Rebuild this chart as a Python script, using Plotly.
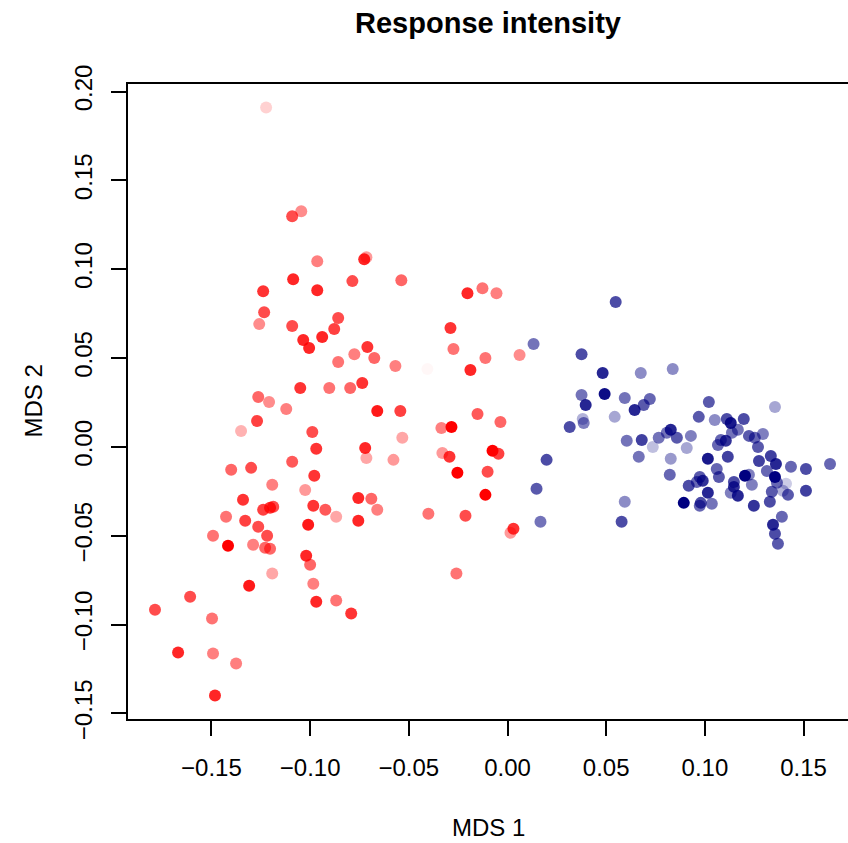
import plotly.graph_objects as go

# Group 1 (red): MDS coordinates and per-sample response intensity (0-1)
red_x = [-0.1223, -0.1045, -0.1091, -0.0964, -0.1086, -0.1238, -0.0964, -0.0786, -0.0726, -0.0715,
         -0.1233, -0.1258, -0.1091, -0.1035, -0.1005, -0.0939, -0.0878, -0.0858, -0.0776, -0.0858,
         -0.0710, -0.0736, -0.0797, -0.0903, -0.1050, -0.1263, -0.1208, -0.1121, -0.1269, -0.1350,
         -0.0989, -0.0969, -0.0721, -0.0715, -0.1400, -0.1299, -0.1091, -0.1192, -0.0979, -0.1025,
         -0.1340, -0.1238, -0.1203, -0.1187, -0.0984, -0.0923, -0.0756, -0.1426, -0.1329, -0.1263,
         -0.1218, -0.1492, -0.1416, -0.1289, -0.1228, -0.1203, -0.0868, -0.0756, -0.1010, -0.1020,
         -0.1000, -0.1192, -0.1309, -0.0984, -0.1608, -0.1786, -0.1497, -0.0969, -0.0868, -0.0792,
         -0.1669, -0.1492, -0.1375, -0.1482, -0.0538, -0.0203, -0.0127, -0.0056, -0.0289, -0.0675,
         -0.0568, -0.0406, -0.0274, -0.0188, -0.0112, 0.0061, -0.0660, -0.0543, -0.0533, -0.0335,
         -0.0284, -0.0152, -0.0036, -0.0578, -0.0330, -0.0294, -0.0076, -0.0046, -0.0254, -0.0101,
         -0.0112, -0.0690, -0.0660, -0.0401, -0.0213, 0.0030, 0.0015, -0.0259]
red_y = [0.1910, 0.1326, 0.1298, 0.1045, 0.0944, 0.0876, 0.0882, 0.0933, 0.1056, 0.1067,
         0.0758, 0.0691, 0.0680, 0.0601, 0.0556, 0.0618, 0.0663, 0.0725, 0.0522, 0.0478,
         0.0562, 0.0360, 0.0331, 0.0331, 0.0331, 0.0281, 0.0253, 0.0213, 0.0146, 0.0090,
         0.0084, -0.0011, -0.0006, -0.0062, -0.0129, -0.0118, -0.0084, -0.0213, -0.0163, -0.0242,
         -0.0298, -0.0354, -0.0343, -0.0337, -0.0331, -0.0354, -0.0287, -0.0393, -0.0416, -0.0449,
         -0.0500, -0.0500, -0.0556, -0.0551, -0.0567, -0.0573, -0.0393, -0.0416, -0.0438, -0.0612,
         -0.0663, -0.0713, -0.0781, -0.0770, -0.0843, -0.0916, -0.0966, -0.0871, -0.0865, -0.0938,
         -0.1157, -0.1163, -0.1219, -0.1399, 0.0938, 0.0865, 0.0893, 0.0865, 0.0669, 0.0500,
         0.0455, 0.0438, 0.0551, 0.0433, 0.0500, 0.0517, 0.0202, 0.0202, 0.0051, 0.0107,
         0.0112, 0.0185, 0.0140, -0.0073, -0.0034, -0.0056, -0.0022, -0.0039, -0.0146, -0.0140,
         -0.0270, -0.0292, -0.0354, -0.0376, -0.0388, -0.0461, -0.0483, -0.0713]
red_intensity = [0.18, 0.45, 0.70, 0.50, 0.85, 0.80, 0.85, 0.70, 0.85, 0.40,
                 0.70, 0.45, 0.70, 0.85, 0.85, 0.85, 0.75, 0.70, 0.50, 0.55,
                 0.80, 0.80, 0.60, 0.55, 0.80, 0.60, 0.45, 0.50, 0.75, 0.30,
                 0.70, 0.80, 0.85, 0.35, 0.60, 0.70, 0.65, 0.50, 0.80, 0.40,
                 0.80, 0.75, 0.80, 0.70, 0.80, 0.65, 0.85, 0.55, 0.75, 0.70,
                 0.70, 0.55, 1.00, 0.50, 0.60, 0.60, 0.35, 0.85, 0.90, 0.85,
                 0.60, 0.35, 0.90, 0.50, 0.70, 0.70, 0.55, 0.85, 0.55, 0.80,
                 0.85, 0.50, 0.50, 0.85, 0.60, 0.85, 0.55, 0.50, 0.80, 0.60,
                 0.50, 0.03, 0.55, 0.85, 0.55, 0.45, 0.90, 0.75, 0.35, 0.50,
                 1.00, 0.65, 0.60, 0.40, 0.40, 0.80, 1.00, 0.75, 1.00, 0.70,
                 1.00, 0.60, 0.50, 0.55, 0.70, 0.80, 0.40, 0.55]

# Group 2 (blue): MDS coordinates and per-sample response intensity (0-1)
blue_x = [0.0132, 0.0198, 0.0147, 0.0167, 0.0548, 0.0375, 0.0482, 0.0675, 0.0837, 0.0375,
          0.0492, 0.0396, 0.0594, 0.0644, 0.0690, 0.0721, 0.0381, 0.0386, 0.0315, 0.0543,
          0.0604, 0.0680, 0.0766, 0.0736, 0.0807, 0.0827, 0.0858, 0.0929, 0.0908, 0.0665,
          0.0827, 0.0822, 0.0918, 0.0893, 0.0594, 0.0578, 0.1020, 0.0969, 0.1050, 0.1111,
          0.1131, 0.1197, 0.1355, 0.1167, 0.1137, 0.1106, 0.1081, 0.1066, 0.1223, 0.1253,
          0.1294, 0.1269, 0.1015, 0.1116, 0.1060, 0.1071, 0.0974, 0.0959, 0.0989, 0.1274,
          0.1334, 0.1360, 0.1314, 0.1436, 0.1512, 0.1634, 0.1203, 0.1223, 0.1238, 0.1355,
          0.1365, 0.1411, 0.1395, 0.1421, 0.1147, 0.1147, 0.1131, 0.1167, 0.1015, 0.0979,
          0.0974, 0.1035, 0.1248, 0.1339, 0.1329, 0.1512, 0.1390, 0.1345, 0.1355, 0.1370]
blue_y = [0.0579, -0.0073, -0.0236, -0.0421, 0.0815, 0.0522, 0.0416, 0.0416, 0.0438, 0.0292,
          0.0298, 0.0236, 0.0275, 0.0208, 0.0236, 0.0270, 0.0157, 0.0135, 0.0112, 0.0169,
          0.0034, 0.0039, 0.0051, 0.0000, 0.0079, 0.0096, 0.0051, 0.0062, -0.0006, -0.0056,
          -0.0067, -0.0157, -0.0219, -0.0315, -0.0309, -0.0421, 0.0253, 0.0169, 0.0152, 0.0157,
          0.0135, 0.0157, 0.0225, 0.0096, 0.0079, 0.0034, 0.0039, 0.0011, 0.0062, 0.0051,
          0.0073, 0.0000, -0.0067, -0.0056, -0.0124, -0.0169, -0.0169, -0.0197, -0.0191, -0.0079,
          -0.0051, -0.0096, -0.0135, -0.0112, -0.0124, -0.0096, -0.0163, -0.0157, -0.0213, -0.0169,
          -0.0202, -0.0208, -0.0247, -0.0270, -0.0197, -0.0225, -0.0258, -0.0275, -0.0258, -0.0315,
          -0.0331, -0.0320, -0.0331, -0.0253, -0.0309, -0.0247, -0.0393, -0.0438, -0.0489, -0.0545]
blue_intensity = [0.55, 0.70, 0.65, 0.55, 0.70, 0.70, 0.85, 0.45, 0.45, 0.55,
                  0.95, 0.85, 0.55, 0.85, 0.65, 0.60, 0.30, 0.50, 0.70, 0.35,
                  0.55, 0.75, 0.55, 0.25, 0.55, 0.85, 0.65, 0.50, 0.35, 0.55,
                  0.40, 0.60, 0.70, 1.00, 0.45, 0.70, 0.65, 0.65, 0.45, 0.70,
                  0.90, 0.70, 0.35, 0.55, 0.55, 0.80, 0.60, 0.60, 0.65, 0.60,
                  0.50, 0.65, 0.90, 0.75, 0.60, 0.65, 0.65, 0.60, 0.80, 0.75,
                  0.75, 0.85, 0.60, 0.60, 0.70, 0.60, 1.00, 0.50, 0.50, 1.00,
                  0.60, 0.20, 0.30, 0.65, 0.70, 0.80, 0.50, 0.85, 0.85, 0.70,
                  0.60, 0.55, 0.80, 0.65, 0.70, 0.75, 0.60, 0.85, 0.70, 0.65]

tick_vals_x = [-0.15, -0.10, -0.05, 0.00, 0.05, 0.10, 0.15]
tick_text_x = ["\u22120.15", "\u22120.10", "\u22120.05", "0.00", "0.05", "0.10", "0.15"]
tick_vals_y = [-0.15, -0.10, -0.05, 0.00, 0.05, 0.10, 0.15, 0.20]
tick_text_y = ["\u22120.15", "\u22120.10", "\u22120.05", "0.00", "0.05", "0.10", "0.15", "0.20"]

FONT = "Liberation Sans, Arial, Helvetica, sans-serif"


def rgba(base, a):
    return f"rgba({base[0]},{base[1]},{base[2]},{a})"


red_colors = [rgba((255, 0, 0), a) for a in red_intensity]
blue_colors = [rgba((0, 0, 128), a) for a in blue_intensity]

fig = go.Figure()
fig.add_trace(go.Scatter(x=red_x, y=red_y, mode="markers",
                         marker=dict(size=12, color=red_colors, line=dict(width=0)),
                         showlegend=False, hoverinfo="skip"))
fig.add_trace(go.Scatter(x=blue_x, y=blue_y, mode="markers",
                         marker=dict(size=12, color=blue_colors, line=dict(width=0)),
                         showlegend=False, hoverinfo="skip"))

# R-style padding (4%) on the left/bottom/top; right side runs off the page
all_x = red_x + blue_x
all_y = red_y + blue_y
xpad = 0.04 * (max(all_x) - min(all_x))
ypad = 0.04 * (max(all_y) - min(all_y))
x_range = [min(all_x) - xpad, 0.1725]
y_range = [min(all_y) - ypad, max(all_y) + ypad]

axis_common = dict(
    showgrid=False, zeroline=False, showline=True, linecolor="black", linewidth=1.5,
    ticks="outside", ticklen=15, tickwidth=1.5, tickcolor="black",
    tickfont=dict(family=FONT, size=24, color="black"),
)

fig.update_layout(
    width=848, height=843,
    margin=dict(l=128, r=0, t=84, b=124),
    paper_bgcolor="white", plot_bgcolor="white",
    xaxis=dict(range=x_range, tickvals=tick_vals_x, ticktext=tick_text_x,
               mirror=True, ticklabelstandoff=11, **axis_common),
    yaxis=dict(range=y_range, tickvals=tick_vals_y, ticktext=tick_text_y,
               tickangle=-90, ticklabelstandoff=10, **axis_common),
    title=dict(text="<b>Response intensity</b>", x=0.5, xref="paper", xanchor="center",
               y=1 - 22.5 / 843, yanchor="middle",
               font=dict(family=FONT, size=29, color="black")),
    annotations=[
        dict(text="MDS 1", xref="paper", yref="paper", x=0.5, y=-(828 - 719.5) / 635.5,
             xanchor="center", yanchor="middle", showarrow=False,
             font=dict(family=FONT, size=24, color="black")),
        dict(text="MDS 2", xref="paper", yref="paper", x=-(128 - 33) / 720, y=0.5,
             xanchor="center", yanchor="middle", textangle=-90, showarrow=False,
             font=dict(family=FONT, size=24, color="black")),
    ],
)

fig.write_html("out.html")
